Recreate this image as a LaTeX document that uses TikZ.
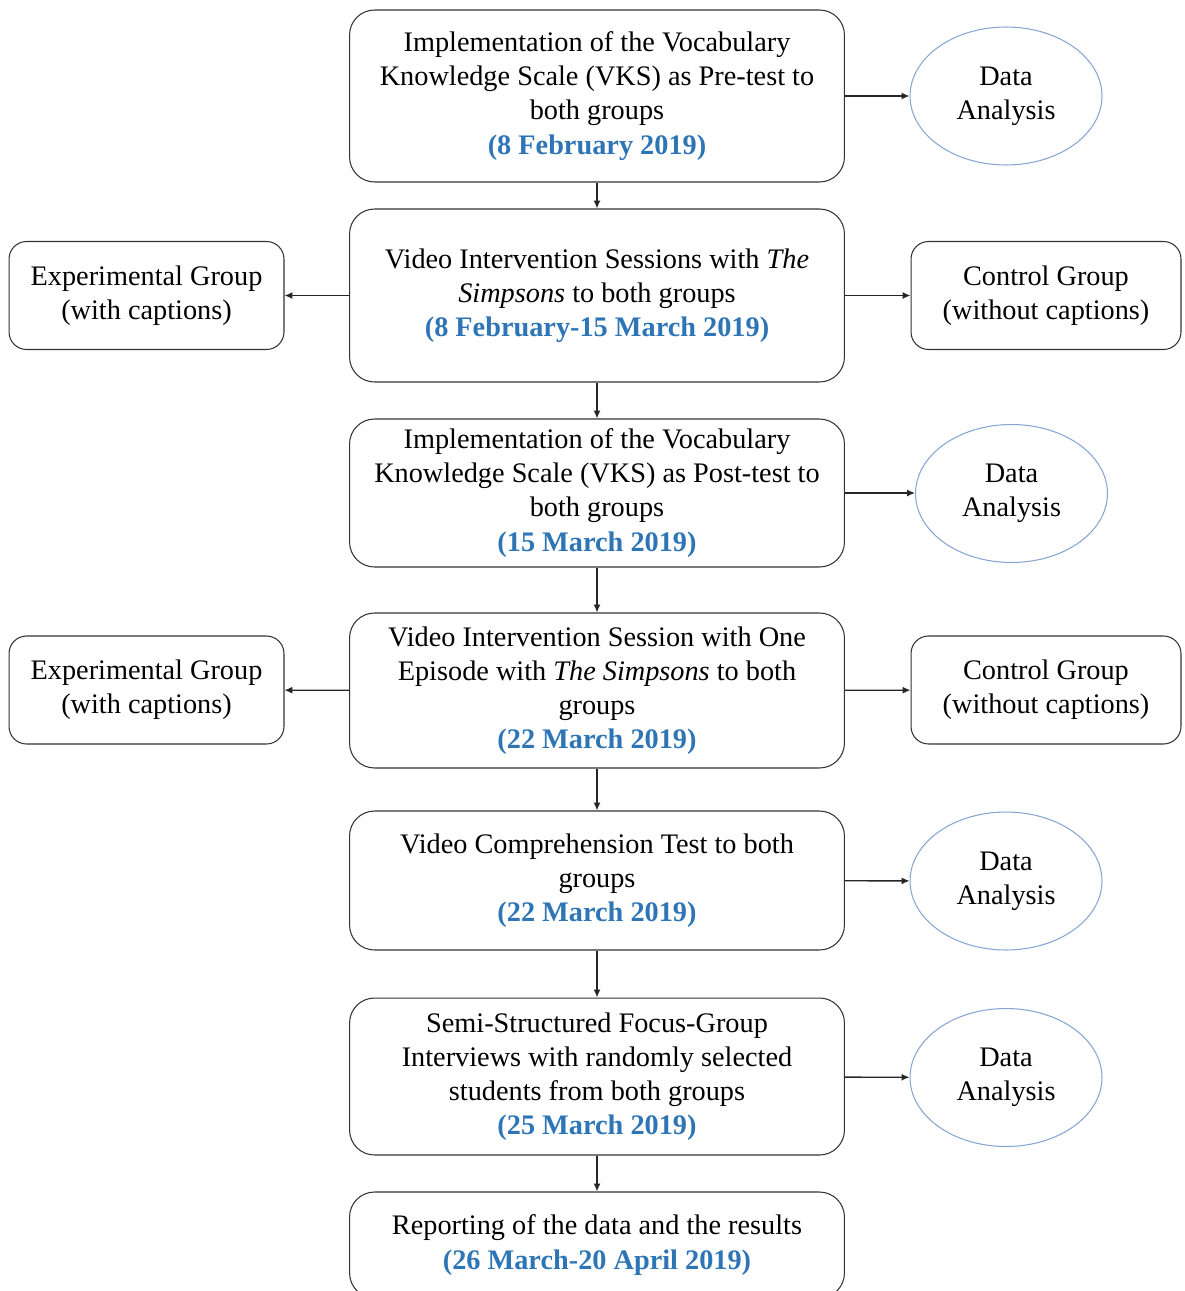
\documentclass[tikz,border=0pt]{standalone}
\usepackage{fontspec}
\setmainfont{Liberation Serif}
\usepackage{xcolor}
\usetikzlibrary{shapes,arrows.meta,positioning}
\definecolor{datecol}{RGB}{46,117,182}
\definecolor{ellcol}{RGB}{135,165,210}
\newcommand{\when}[1]{\textcolor{datecol}{\textbf{#1}}}

\begin{document}
\begin{tikzpicture}[x=0.02cm,y=-0.02cm,
    every node/.style={font=\fontsize{16.1}{19.4}\selectfont},
    mainbox/.style={draw=black!80,line width=0.6pt,rounded corners=0.5cm,
        minimum width=9.9cm,align=center,inner sep=2pt},
    sidebox/.style={draw=black!80,line width=0.6pt,rounded corners=0.35cm,
        minimum width=5.5cm,minimum height=2.16cm,align=center},
    analysis/.style={draw=ellcol,line width=0.6pt,ellipse,
        minimum width=3.84cm,minimum height=2.76cm,align=center,inner sep=0pt},
    link/.style={draw=black!85,line width=0.75pt,-{Latex[length=4.5pt,width=4pt]}}]
    \useasboundingbox (0,0) rectangle (1184,1291);

    % Main column
    \node[mainbox,minimum height=3.44cm] (pre) at (597,96)
        {Implementation of the Vocabulary\\Knowledge Scale (VKS) as Pre-test to\\both groups\\\when{(8 February 2019)}};
    \node[mainbox,minimum height=3.46cm] (sessions) at (597,295.5)
        {Video Intervention Sessions with \textit{The}\\\textit{Simpsons} to both groups\\\when{(8 February-15 March 2019)}};
    \node[mainbox,minimum height=2.96cm] (post) at (597,493)
        {Implementation of the Vocabulary\\Knowledge Scale (VKS) as Post-test to\\both groups\\\when{(15 March 2019)}};
    \node[mainbox,minimum height=3.1cm] (episode) at (597,690.5)
        {Video Intervention Session with One\\Episode with \textit{The Simpsons} to both\\groups\\\when{(22 March 2019)}};
    \node[mainbox,minimum height=2.78cm] (comp) at (597,880.5)
        {Video Comprehension Test to both\\groups\\\when{(22 March 2019)}};
    \node[mainbox,minimum height=3.14cm] (focus) at (597,1076.5)
        {Semi-Structured Focus-Group\\Interviews with randomly selected\\students from both groups\\\when{(25 March 2019)}};
    \node[mainbox,minimum height=2.12cm] (report) at (597,1245)
        {Reporting of the data and the results\\\when{(26 March-20 April 2019)}};

    % Groups on both sides
    \node[sidebox] (expA) at (146.5,295.5) {Experimental Group\\(with captions)};
    \node[sidebox,minimum width=5.4cm] (ctrlA) at (1046,295.5) {Control Group\\(without captions)};
    \node[sidebox] (expB) at (146.5,690) {Experimental Group\\(with captions)};
    \node[sidebox,minimum width=5.4cm] (ctrlB) at (1046,690) {Control Group\\(without captions)};

    % Data analysis
    \node[analysis] (daA) at (1006,96) {Data\\Analysis};
    \node[analysis] (daB) at (1011.5,493.5) {Data\\Analysis};
    \node[analysis] (daC) at (1006,881) {Data\\Analysis};
    \node[analysis] (daD) at (1006,1077.5) {Data\\Analysis};

    % Flow down
    \draw[link] (pre) -- (sessions);
    \draw[link] (sessions) -- (post);
    \draw[link] (post) -- (episode);
    \draw[link] (episode) -- (comp);
    \draw[link] (comp) -- (focus);
    \draw[link] (focus) -- (report);

    % Sideways
    \draw[link] (sessions) -- (expA);
    \draw[link] (sessions) -- (ctrlA);
    \draw[link] (episode) -- (expB);
    \draw[link] (episode) -- (ctrlB);
    \draw[link] (pre) -- (daA);
    \draw[link] (post.east) -- (daB.west |- post.east);
    \draw[link] (comp) -- (daC);
    \draw[link] (focus) -- (daD);
\end{tikzpicture}
\end{document}
